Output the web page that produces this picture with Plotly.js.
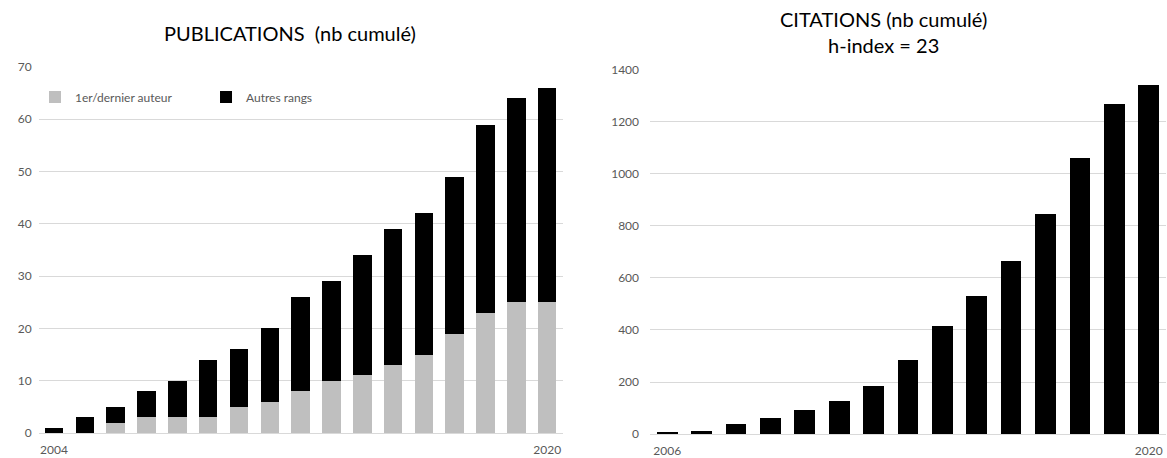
<!DOCTYPE html>
<html><head><meta charset="utf-8">
<script src="https://cdn.plot.ly/plotly-3.0.1.min.js"></script>
<style>body{margin:0;background:#fff}#c{width:1167px;height:458px}</style>
</head><body><div id="c"></div>
<script>
const pubYears = [2004,2005,2006,2007,2008,2009,2010,2011,2012,2013,2014,2015,2016,2017,2018,2019,2020];
const pubTotal = [1,3,5,8,10,14,16,20,26,29,34,39,42,49,59,64,66];
const pubFirstLast = [0,0,2,3,3,3,5,6,8,10,11,13,15,19,23,25,25];
const citYears = [2006,2007,2008,2009,2010,2011,2012,2013,2014,2015,2016,2017,2018,2019,2020];
const citTotal = [6,13,37,61,91,128,183,286,414,530,665,848,1062,1268,1342];
const pubOthers = pubTotal.map((t,i)=>t-pubFirstLast[i]);

const tickFont = {family:'Lato, "Noto Sans", sans-serif', size:12, color:'#595959'};
const traces = [
  {type:'bar', x:pubYears, y:pubFirstLast, name:'1er/dernier auteur', marker:{color:'#bfbfbf'}, xaxis:'x', yaxis:'y'},
  {type:'bar', x:pubYears, y:pubOthers, name:'Autres rangs', marker:{color:'#000000'}, xaxis:'x', yaxis:'y'},
  {type:'bar', x:citYears, y:citTotal, name:'Citations', marker:{color:'#000000'}, xaxis:'x2', yaxis:'y2', showlegend:false}
];
const gy = {gridcolor:'#d9d9d9', gridwidth:1, zeroline:false, showline:false, tickfont:tickFont, ticklabelstandoff:6, fixedrange:true};
const layout = {
  width:1167, height:458, margin:{l:0,r:0,t:0,b:0},
  paper_bgcolor:'#fff', plot_bgcolor:'#fff',
  barmode:'stack', bargap:0.4, showlegend:true,
  font:{family:'Lato, "Noto Sans", sans-serif'},
  xaxis:{domain:[0.0331,0.4821], anchor:'y', range:[2003.5,2020.5], tickvals:[2004,2020], ticktext:['2004','2020'], tickfont:tickFont, showgrid:false, showline:true, linecolor:'#d9d9d9', zeroline:false, ticks:'', ticklabelstandoff:6},
  yaxis:Object.assign({domain:[0.0546,0.8537], anchor:'x', range:[0,70], dtick:10}, gy),
  xaxis2:{domain:[0.557,0.9991], anchor:'y2', range:[2005.5,2020.5], tickvals:[2006,2020], ticktext:['2006','2020'], tickfont:tickFont, showgrid:false, showline:true, linecolor:'#d9d9d9', zeroline:false, ticks:'', ticklabelstandoff:6},
  yaxis2:Object.assign({domain:[0.0524,0.8472], anchor:'x2', range:[0,1400], dtick:200}, gy, {ticklabelstandoff:10}),
  legend:{orientation:'h', x:0.03, y:1-97/458, xanchor:'left', yanchor:'middle', font:{family:'Lato, "Noto Sans", sans-serif', size:12, color:'#595959'}, bgcolor:'rgba(0,0,0,0)', itemwidth:30, entrywidth:126, traceorder:'normal'},
  annotations:[
    {text:'PUBLICATIONS  (nb cumulé)', xref:'paper', yref:'paper', x:290/1167, y:1-33/458, xanchor:'center', yanchor:'middle', showarrow:false, font:{family:'Lato, "Noto Sans", sans-serif', size:20, color:'#000'}},
    {text:'CITATIONS (nb cumulé)<br>h-index = 23', xref:'paper', yref:'paper', x:883/1167, y:1-32/458, xanchor:'center', yanchor:'middle', showarrow:false, font:{family:'Lato, "Noto Sans", sans-serif', size:20, color:'#000'}}
  ]
};
Plotly.newPlot('c', traces, layout, {displayModeBar:false, staticPlot:true});
</script></body></html>
